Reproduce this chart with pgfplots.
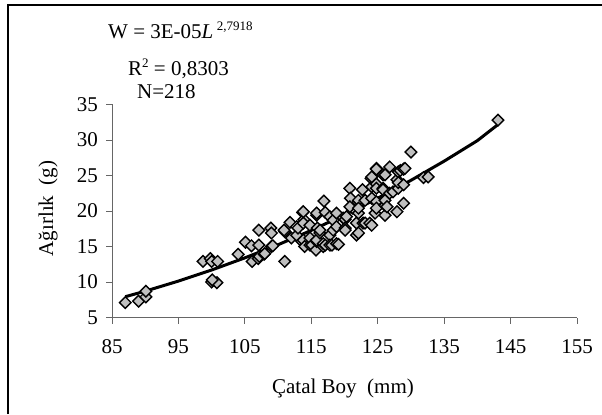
\documentclass[border=0pt]{standalone}
\usepackage{pgfplots}
\pgfplotsset{compat=1.18}
\usepackage{fontspec}
\setmainfont{Liberation Serif}
\pgfplotstableread{
x y
87.0 7.1
89.0 7.3
90.1 7.9
90.1 8.7
98.7 12.9
99.8 13.3
100.0 12.9
100.9 12.9
100.0 10.0
100.8 9.9
100.1 10.3
104.0 13.9
105.1 15.6
106.0 15.1
106.1 12.9
107.0 13.3
107.2 13.6
107.1 15.2
107.9 13.9
107.1 17.3
108.9 17.6
109.0 16.9
109.0 15.0
109.2 15.1
108.0 14.0
111.0 12.9
111.0 17.1
110.9 17.3
111.8 18.4
112.0 16.2
112.8 17.8
112.8 16.6
113.0 17.6
113.6 15.7
113.7 19.8
113.9 18.8
113.8 18.3
113.8 15.9
113.8 19.9
114.0 15.0
114.8 15.2
114.8 16.2
114.8 18.0
115.1 15.2
115.7 14.5
115.8 15.7
115.8 15.9
115.8 19.4
115.8 19.7
115.9 17.6
116.3 16.9
116.3 17.3
116.8 15.0
116.8 15.4
116.9 21.4
117.1 19.8
117.1 15.2
117.8 16.6
117.8 15.2
117.8 19.2
118.1 15.2
118.3 18.7
118.3 17.3
118.8 19.7
118.8 17.8
118.8 15.4
119.1 15.3
119.8 19.0
120.1 18.8
120.1 17.6
120.1 17.3
120.3 19.2
120.8 23.2
120.9 21.8
121.2 20.4
120.8 20.6
121.8 16.6
121.8 18.3
122.1 19.7
122.1 21.5
122.1 16.9
122.1 20.4
122.7 23.0
122.8 18.3
123.1 21.5
123.1 18.3
123.8 18.3
124.0 24.6
124.1 23.4
124.1 21.8
124.1 18.0
124.1 24.8
124.6 19.7
124.8 26.0
124.8 25.9
124.8 23.8
124.8 21.3
124.8 20.4
124.8 23.2
125.8 25.1
125.8 23.2
125.8 23.0
126.1 19.4
126.1 20.8
126.1 21.5
126.1 25.1
126.4 20.6
126.8 26.2
126.8 22.5
127.3 22.7
127.9 19.9
127.9 24.4
128.1 25.5
128.1 23.2
128.1 24.0
128.4 25.7
128.9 25.9
128.9 23.7
128.9 21.1
129.1 26.0
130.0 28.3
131.9 24.7
132.6 24.8
143.1 32.8
}\pts
\begin{document}
\fontsize{21bp}{25bp}\selectfont
\begin{tikzpicture}[x=1bp,y=1bp]
\useasboundingbox (0,0) rectangle (602,414);
\draw[line width=1.5bp] (8,0) -- (8,409) -- (602,409);
\begin{axis}[
  at={(112bp,96.5bp)}, anchor=south west,
  scale only axis, width=465bp, height=213bp,
  xmin=85, xmax=155, ymin=5, ymax=35,
  xtick={85,95,...,155}, ytick={5,10,...,35},
  axis x line*=bottom, axis y line*=left,
  axis line style={draw=black!60, line width=1bp, -},
  tick style={draw=black!60, line width=1bp},
  tick align=outside, major tick length=6bp,
  /pgf/number format/assume math mode=true,
  ticklabel style={font=\fontsize{21bp}{25bp}\selectfont},
  xticklabel style={yshift=-9bp},
  yticklabel style={xshift=-1bp},
  clip=false,
]
\addplot[only marks, mark=square*, mark size=4.1bp,
  mark options={rotate=45, fill=black!25, draw=black, line width=1.4bp}] table {\pts};
\addplot[black, line width=3bp, no marks] coordinates {
(87,7.93) (90,8.71) (95,10.13) (100,11.69) (105,13.40) (110,15.25) (115,17.27)
(120,19.45) (125,21.80) (130,24.32) (135,27.02) (140,29.91) (143,32.1)};
\end{axis}
\node[anchor=base west, inner sep=0pt] at (108,376) {W = 3E-05\textit{L}\,\raisebox{8bp}{\fontsize{13bp}{15bp}\selectfont 2,7918}};
\node[anchor=base west, inner sep=0pt] at (128,338.5) {R\raisebox{8bp}{\fontsize{13bp}{15bp}\selectfont 2} = 0,8303};
\node[anchor=base west, inner sep=0pt] at (137,316) {N=218};
\node[anchor=base, inner sep=0pt] at (343,20.7) {Çatal Boy\ \ (mm)};
\node[anchor=base, inner sep=0pt, rotate=90] at (53,205.5) {Ağırlık\ \ (g)};
\end{tikzpicture}
\end{document}
